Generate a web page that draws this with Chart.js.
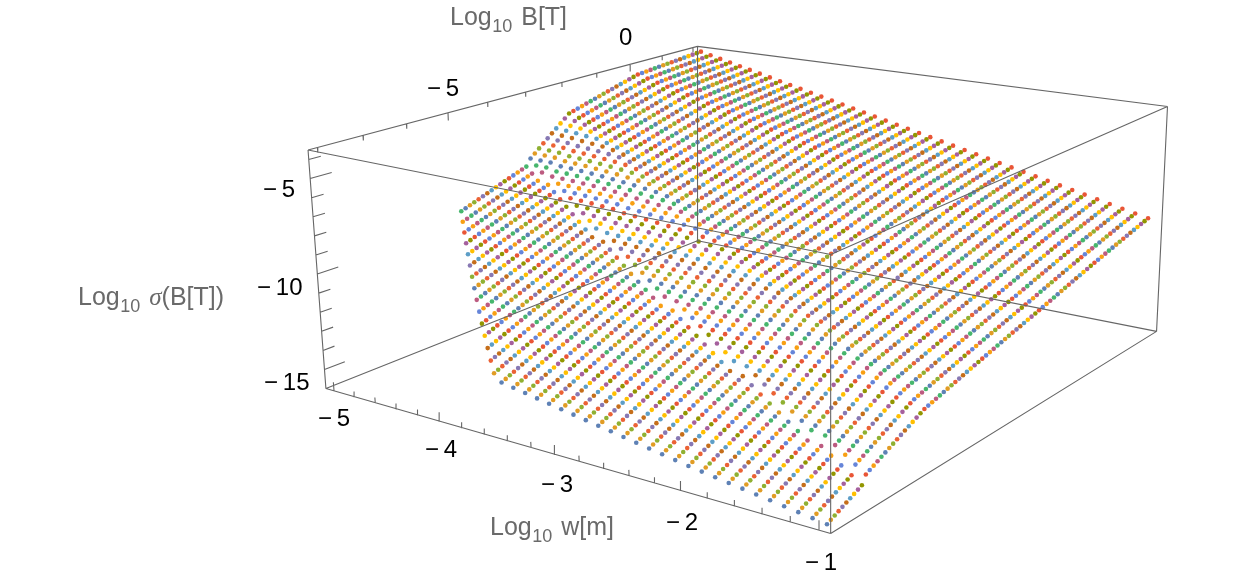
<!DOCTYPE html>
<html><head><meta charset="UTF-8"><style>html,body{margin:0;background:#fff}canvas{display:block}</style>
<script src="https://cdn.jsdelivr.net/npm/chart.js@4"></script></head><body><canvas id="c" width="1248" height="577"></canvas>
<script>
const palette=['#5E81B5','#E19C24','#8FB032','#EB6235','#8778B3','#C56E1A','#5D9EC7','#FFBF00','#A5609D','#929600','#E95536','#6685D9','#F89F13','#BC5B80','#47B66D'];
const corners={a:[324,390],b:[832,537],c:[1160,332],d:[698,240],a2:[306,148],b2:[832,254],c2:[1171,104],d2:[698,43]};
function homog(p0,p1,p2,p3){const dx1=p1[0]-p2[0],dx2=p3[0]-p2[0],sx=p0[0]-p1[0]+p2[0]-p3[0],dy1=p1[1]-p2[1],dy2=p3[1]-p2[1],sy=p0[1]-p1[1]+p2[1]-p3[1];
const den=dx1*dy2-dx2*dy1,g=(sx*dy2-dx2*sy)/den,h=(dx1*sy-sx*dy1)/den;
return (u,v)=>{const q=g*u+h*v+1;return [((p1[0]-p0[0]+g*p1[0])*u+(p3[0]-p0[0]+h*p3[0])*v+p0[0])/q,((p1[1]-p0[1]+g*p1[1])*u+(p3[1]-p0[1]+h*p3[1])*v+p0[1])/q];};}
const low=homog(corners.a,corners.b,corners.c,corners.d),high=homog(corners.a2,corners.b2,corners.c2,corners.d2);
function proj(u,v,t){const p=low(u,v),q=high(u,v);return {x:p[0]+(q[0]-p[0])*t,y:p[1]+(q[1]-p[1])*t};}
const U=w=>(w+5.08)/4.16,V=b=>(b+8.2)/10.35,T=z=>(z+16)/12.5;
const logB=[];for(let j=0;j<86;j++)logB.push(-8+.098*j+.000235*j*(j-1));
const js=i=>i<=25?0:2*(i-26)+1;
function li(k,x){for(let n=0;n<k.length-1;n++){if(x<=k[n+1][0]||n==k.length-2){const[a,b]=k[n],[c,d]=k[n+1];return b+(d-b)*(x-a)/(c-a);}}}
function D(j,i){const d0=li([[25,3.57],[56,1.78],[70,.9],[85,0]],j),d4=li([[30,3.3],[54,1.55],[70,.36],[85,0]],j);return d0+(d4-d0)*i/40;}
function Z(i,j){const A=li([[0,-15.95],[10,-15.06],[20,-14],[25,-13.47],[40,-11.55]],i),jJ=10+Math.round(.88*i),jK=25+.725*i,e=-9.7+.15*i;
if(j<jJ)return A+.09*j;const za=A+.09*jJ+.3,zk=e-D(jK,i);if(j<jK)return za+(zk-za)*(j-jJ)/(jK-jJ);return e-D(j,i);}
const ds=[];
for(let j=0;j<86;j++){const data=[];for(let i=0;i<=40;i++){if(j<js(i))continue;data.push(proj(U(-1-i/10),V(logB[j]),T(Z(i,j))));}
ds.push({data,backgroundColor:palette[j%15],pointRadius:2.3,borderWidth:0,order:1});}
const seg=[];const add=(p,q)=>{seg.push(p,q,{x:null,y:null});};
const e=(a,b)=>add({x:corners[a][0],y:corners[a][1]},{x:corners[b][0],y:corners[b][1]});
[['a','b'],['b','c'],['c','d'],['d','a'],['a2','b2'],['b2','c2'],['c2','d2'],['d2','a2'],['a','a2'],['b','b2'],['c','c2'],['d','d2']].forEach(x=>e(...x));
for(let k=0;k<=20;k++){const w=-5+k*.2,M=k%5==0;const u=U(w);add(proj(u,0,0),proj(u,0,M?.036:.022));}
for(let b=-8;b<=2;b++){const M=b%5==0,v=V(b);add(proj(0,v,1),proj(0,v,M?.965:.978));}
for(let z=-15;z<=-4;z++){const M=z%5==0,t=T(z);add(proj(0,0,t),proj(0,M?.045:.025,t));}
ds.push({data:seg,showLine:true,spanGaps:false,borderColor:'#666',borderWidth:1.1,pointRadius:0,order:0});
const sans='"Liberation Sans"';
const tl=[['−\u20095',318,426],['−\u20094',425,457],['−\u20093',541,492],['−\u20092',666,530],['−\u20091',805,570],['−\u20095',427,96],['0',619,45],['−\u20095',263,197],['−\u200910',257,295],['−\u200915',264,390]];
const lab={id:'lab',afterDraw(ch){const c=ch.ctx;c.save();c.textBaseline='alphabetic';c.fillStyle='#000';c.font='24px '+sans;tl.forEach(t=>c.fillText(t[0],t[1],t[2]));
const L=(x,y,r,it)=>{let X=x;c.fillStyle='#6a6a6a';c.font='25px '+sans;c.fillText('Log',X,y);X+=c.measureText('Log').width+.5;c.font='18px '+sans;c.fillText('10',X,y+7);X+=c.measureText('10').width+9;
if(it){c.font='italic 25px "Liberation Serif"';c.fillText('σ',X,y);X+=c.measureText('σ').width;c.font='25px '+sans;}
c.font='25px '+sans;c.fillText(r,X,y);};
L(450,25,'B[T]');L(490,535,'w[m]');L(78,305,'(B[T])',1);c.restore();}};
new Chart(document.getElementById('c'),{type:'scatter',data:{datasets:ds},plugins:[lab],options:{responsive:false,animation:false,layout:{padding:0},plugins:{legend:{display:false},tooltip:{enabled:false}},scales:{x:{type:'linear',min:0,max:1248,display:false},y:{type:'linear',min:0,max:577,reverse:true,display:false}}}});
</script></body></html>
